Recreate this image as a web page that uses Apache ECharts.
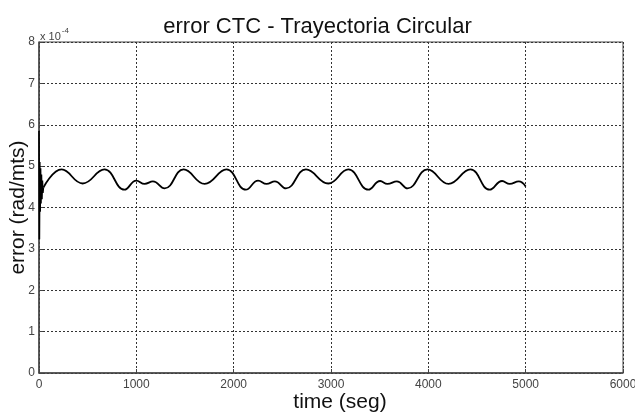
<!DOCTYPE html>
<html>
<head>
<meta charset="utf-8">
<script src="https://cdn.jsdelivr.net/npm/echarts@6/dist/echarts.min.js"></script>
<style>
html,body{margin:0;padding:0;background:#fff;}
#chart{width:635px;height:415px;}
</style>
</head>
<body>
<div id="chart"></div>
<script>
// values in units of 1e-4 rad/mts
const xTicks = [0, 1000, 2000, 3000, 4000, 5000, 6000];
const yTicks = [0, 1, 2, 3, 4, 5, 6, 7, 8];
// initial transient (time seg, error x1e-4)
const transientTime = [0, 4, 8, 12, 16, 20, 25, 30, 35, 40, 45];
const transientErr  = [5.85, 3.23, 5.1, 3.9, 4.95, 4.1, 4.8, 4.2, 4.65, 4.35, 4.48];
// steady oscillation (time seg, error x1e-4)
const mainTime = [45, 233, 449, 672, 878, 999, 1085, 1170, 1290, 1486, 1702, 1926, 2125, 2251, 2338, 2423, 2537, 2743, 2972, 3178, 3384, 3505, 3580, 3677, 3786, 3992, 4208, 4432, 4630, 4758, 4836, 4929, 5000];
const mainErr  = [4.48, 4.92, 4.58, 4.92, 4.43, 4.65, 4.57, 4.63, 4.46, 4.92, 4.57, 4.92, 4.43, 4.65, 4.57, 4.63, 4.46, 4.92, 4.58, 4.92, 4.43, 4.64, 4.57, 4.63, 4.46, 4.92, 4.57, 4.92, 4.43, 4.64, 4.57, 4.63, 4.51];

const pairs = (xs, ys) => xs.map((x, i) => [x, ys[i]]);

const chart = echarts.init(document.getElementById('chart'), null, {renderer: 'canvas'});
const labelFont = "'Liberation Sans Narrow', 'Liberation Sans', Arial, sans-serif";
chart.setOption({
  backgroundColor: '#ffffff',
  animation: false,
  title: {
    text: 'error CTC - Trayectoria Circular',
    left: 'center',
    top: 11,
    textStyle: {fontFamily: "'Liberation Sans', Arial, sans-serif", fontSize: 22, fontWeight: 'normal', color: '#111'}
  },
  grid: {left: 39, right: 12, top: 42, bottom: 42, containLabel: false, outerBoundsMode: 'none',
         show: true, borderColor: '#444', borderWidth: 1, backgroundColor: '#fff'},
  xAxis: {
    type: 'value', min: xTicks[0], max: xTicks[xTicks.length - 1], interval: 1000,
    name: 'time (seg)', nameLocation: 'middle', nameGap: 19, nameMoveOverlap: false,
    nameTextStyle: {fontFamily: "'Liberation Sans', Arial, sans-serif", fontSize: 21, color: '#111', padding: [0, 0, 0, 18]},
    axisLine: {show: true, lineStyle: {color: '#444', width: 1.5}},
    axisTick: {show: true, inside: true, length: 4, lineStyle: {color: '#444'}},
    axisLabel: {margin: 6, fontFamily: labelFont, fontSize: 12, color: '#444', formatter: v => String(v)},
    splitLine: {show: true, lineStyle: {color: '#333', width: 1, type: [2, 2]}}
  },
  yAxis: {
    type: 'value', min: yTicks[0], max: yTicks[yTicks.length - 1], interval: 1,
    name: 'error (rad/mts)', nameLocation: 'middle', nameGap: 10, nameMoveOverlap: false,
    nameTextStyle: {fontFamily: "'Liberation Sans', Arial, sans-serif", fontSize: 21, color: '#111'},
    axisLine: {show: true, lineStyle: {color: '#444', width: 1.5}},
    axisTick: {show: true, inside: true, length: 4, lineStyle: {color: '#444'}},
    axisLabel: {margin: 4, fontFamily: labelFont, fontSize: 12, color: '#444', formatter: v => String(v)},
    splitLine: {show: true, lineStyle: {color: '#333', width: 1, type: [2, 2]}}
  },
  graphic: [{
    type: 'text', left: 40, top: 27,
    style: {
      text: '{a|x 10}{b|-4}',
      rich: {
        a: {fontFamily: labelFont, fontSize: 11, fill: '#444', verticalAlign: 'bottom', padding: [4, 1, 0, 0]},
        b: {fontFamily: labelFont, fontSize: 8, fill: '#444', verticalAlign: 'top'}
      }
    }
  }],
  series: [
    {type: 'line', data: pairs(transientTime, transientErr), showSymbol: false, lineStyle: {color: '#000', width: 1.6}, z: 3},
    {type: 'line', data: pairs(mainTime, mainErr), smooth: 0.45, showSymbol: false, lineStyle: {color: '#000', width: 1.8}, z: 3}
  ]
});
</script>
</body>
</html>
